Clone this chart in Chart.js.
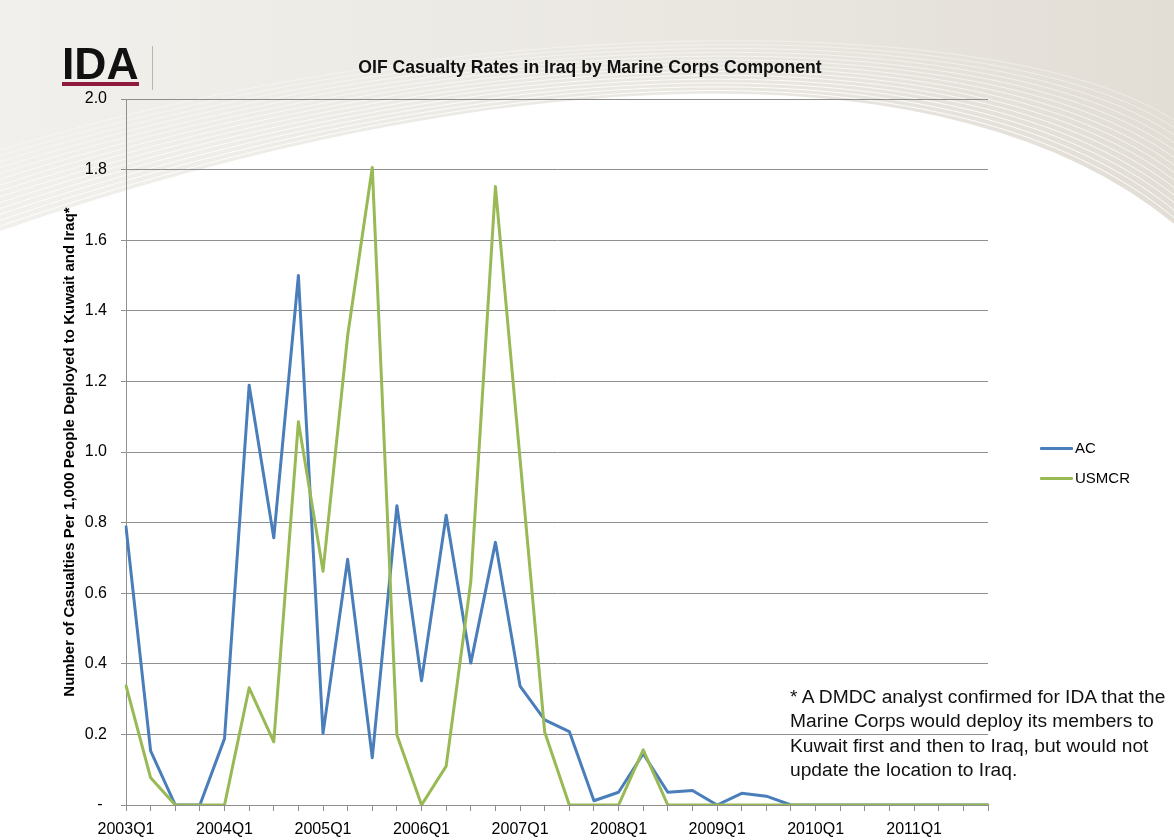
<!DOCTYPE html>
<html>
<head>
<meta charset="utf-8">
<script src="https://cdn.jsdelivr.net/npm/chart.js@4.4.1/dist/chart.umd.min.js"></script>
<style>
  html, body { margin: 0; padding: 0; background: #fff; }
  body { width: 1174px; height: 840px; position: relative; overflow: hidden;
         font-family: 'Liberation Sans', Arial, Helvetica, sans-serif; color: #000; }
  #backdrop, #chart { position: absolute; left: 0; top: 0; }
  .abs { position: absolute; white-space: nowrap; }
  #logo { left: 62px; top: 42px; font-size: 44.5px; line-height: 44px; font-weight: bold; color: #111; }
  #logoBar { left: 62px; top: 82px; width: 77px; height: 4px; background: #8e1b3e; }
  #logoSep { left: 152px; top: 46px; width: 1px; height: 44px; background: #b9b6b0; }
  #title { left: 590px; top: 59px; transform: translateX(-50%); font-size: 17.6px; line-height: 17.6px;
           font-weight: bold; color: #111; }
  #legend { left: 1040px; top: 0; }
  .lg { position: absolute; left: 0; height: 16px; display: flex; align-items: center; font-size: 15px; line-height: 16px; }
  .lg i { display: inline-block; width: 33px; height: 3px; margin-right: 2px; border-radius: 1px; }
  #note { left: 790px; top: 685px; font-size: 19.2px; line-height: 24.4px; white-space: pre; color: #111; }
</style>
</head>
<body>
<canvas id="backdrop" width="1174" height="840"></canvas>
<canvas id="chart" width="1174" height="840"></canvas>
<div id="logo" class="abs">IDA</div>
<div id="logoBar" class="abs"></div>
<div id="logoSep" class="abs"></div>
<div id="title" class="abs">OIF Casualty Rates in Iraq by Marine Corps Component</div>
<div id="legend" class="abs"></div>
<div id="note" class="abs">* A DMDC analyst confirmed for IDA that the
Marine Corps would deploy its members to
Kuwait first and then to Iraq, but would not
update the location to Iraq.</div>
<script>
// Quarterly casualty rates per 1,000 Marines deployed, by component
const quarters = [
  '2003Q1','2003Q2','2003Q3','2003Q4',
  '2004Q1','2004Q2','2004Q3','2004Q4',
  '2005Q1','2005Q2','2005Q3','2005Q4',
  '2006Q1','2006Q2','2006Q3','2006Q4',
  '2007Q1','2007Q2','2007Q3','2007Q4',
  '2008Q1','2008Q2','2008Q3','2008Q4',
  '2009Q1','2009Q2','2009Q3','2009Q4',
  '2010Q1','2010Q2','2010Q3','2010Q4',
  '2011Q1','2011Q2','2011Q3','2011Q4'
];

const acRates = [
  0.788, 0.153, 0, 0,
  0.188, 1.189, 0.757, 1.500,
  0.203, 0.696, 0.134, 0.848,
  0.352, 0.821, 0.402, 0.744,
  0.337, 0.241, 0.208, 0.012,
  0.036, 0.145, 0.036, 0.041,
  0, 0.033, 0.025, 0,
  0, 0, 0, 0,
  0, 0, 0, 0
];

const usmcrRates = [
  0.338, 0.077, 0, 0,
  0, 0.332, 0.179, 1.086,
  0.662, 1.330, 1.806, 0.198,
  0, 0.110, 0.633, 1.752,
  0.980, 0.207, 0, 0,
  0, 0.156, 0, 0,
  0, 0, 0, 0,
  0, 0, 0, 0,
  0, 0, 0, 0
];

// Only the first quarter of each year is labelled on the x axis
const xTickLabels = ['2003Q1','2004Q1','2005Q1','2006Q1','2007Q1','2008Q1','2009Q1','2010Q1','2011Q1'];
// Value axis labels, accounting style (zero shown as a dash)
const yTickLabels = ['- ', '0.2', '0.4', '0.6', '0.8', '1.0', '1.2', '1.4', '1.6', '1.8', '2.0'];

const seriesNames = ['AC', 'USMCR'];
const seriesColors = ['#4a7ebb', '#98b954'];

const FONT = "'Liberation Sans', Arial, Helvetica, sans-serif";
const GRID = '#8f8f8f';

// ---- slide backdrop: beige header with a white swoosh ----
(function drawBackdrop() {
  const cv = document.getElementById('backdrop');
  const ctx = cv.getContext('2d');
  const W = cv.width, H = cv.height;
  ctx.fillStyle = '#ffffff';
  ctx.fillRect(0, 0, W, H);

  const lower = [[0, 232], [500, 60], [950, 40], [1174, 225]];
  const upper = [[0, 150], [450, 12], [1000, 8], [1174, 120]];

  const g = ctx.createLinearGradient(0, 0, W, 0);
  g.addColorStop(0, '#f1f0ec');
  g.addColorStop(0.6, '#eae7e1');
  g.addColorStop(1, '#e2ded6');
  ctx.beginPath();
  ctx.moveTo(0, 0);
  ctx.lineTo(W, 0);
  ctx.lineTo(lower[3][0], lower[3][1]);
  ctx.bezierCurveTo(lower[2][0], lower[2][1], lower[1][0], lower[1][1], lower[0][0], lower[0][1]);
  ctx.closePath();
  ctx.fillStyle = g;
  ctx.fill();

  // fine white strands fanning above the swoosh edge
  const n = 14;
  for (let k = 0; k <= n; k++) {
    const t = k / n;
    const p = lower.map((pt, j) => [pt[0] + (upper[j][0] - pt[0]) * t, pt[1] + (upper[j][1] - pt[1]) * t]);
    ctx.beginPath();
    ctx.moveTo(p[0][0], p[0][1]);
    ctx.bezierCurveTo(p[1][0], p[1][1], p[2][0], p[2][1], p[3][0], p[3][1]);
    ctx.strokeStyle = 'rgba(255,255,255,' + (0.95 - 0.55 * t).toFixed(2) + ')';
    ctx.lineWidth = k === 0 ? 2 : 1;
    ctx.stroke();
  }
})();

// ---- legend ----
(function buildLegend() {
  const lg = document.getElementById('legend');
  const rows = [448, 478];
  seriesNames.forEach((name, i) => {
    const d = document.createElement('div');
    d.className = 'lg';
    d.style.top = (rows[i] - 8) + 'px';
    const sw = document.createElement('i');
    sw.style.background = seriesColors[i];
    d.appendChild(sw);
    d.appendChild(document.createTextNode(name));
    lg.appendChild(d);
  });
})();

// ---- chart ----
Chart.defaults.font.family = FONT;
Chart.defaults.color = '#000';

new Chart(document.getElementById('chart'), {
  type: 'line',
  data: {
    labels: quarters,
    datasets: [
      { label: seriesNames[0], data: acRates, borderColor: seriesColors[0], order: 1 },
      { label: seriesNames[1], data: usmcrRates, borderColor: seriesColors[1], order: 0 }
    ].map(ds => Object.assign(ds, {
      borderWidth: 3,
      pointRadius: 0,
      pointHoverRadius: 0,
      tension: 0,
      fill: false,
      borderJoinStyle: 'round',
      borderCapStyle: 'round'
    }))
  },
  options: {
    responsive: false,
    animation: false,
    events: [],
    layout: { padding: { left: 55, right: 186, top: 99, bottom: 0 } },
    plugins: {
      legend: { display: false },
      title: { display: false },
      tooltip: { enabled: false }
    },
    scales: {
      x: {
        type: 'category',
        grid: { display: true, drawOnChartArea: false, drawTicks: true, tickLength: 6, color: GRID, lineWidth: 1 },
        border: { display: true, color: GRID, width: 1 },
        ticks: {
          autoSkip: false, maxRotation: 0, minRotation: 0, padding: 9,
          font: { size: 16 }, color: '#000',
          callback: function (v, i) {
            const q = quarters[i];
            return xTickLabels.includes(q) ? q : '';
          }
        },
        afterFit: s => { s.height = 35; }
      },
      y: {
        min: 0, max: 2,
        grid: { color: GRID, lineWidth: 1, tickLength: 5, drawTicks: true },
        border: { display: true, color: GRID, width: 1 },
        ticks: {
          stepSize: 0.2, padding: 14, font: { size: 16 }, color: '#000',
          callback: (v, i) => yTickLabels[i]
        },
        title: {
          display: true,
          text: 'Number of Casualties Per 1,000 People Deployed to Kuwait and Iraq*',
          font: { size: 15, weight: 'bold' }, color: '#000',
          padding: { top: 6, bottom: 0 }
        },
        afterFit: s => { s.width = 71; }
      }
    }
  }
});
</script>
</body>
</html>
